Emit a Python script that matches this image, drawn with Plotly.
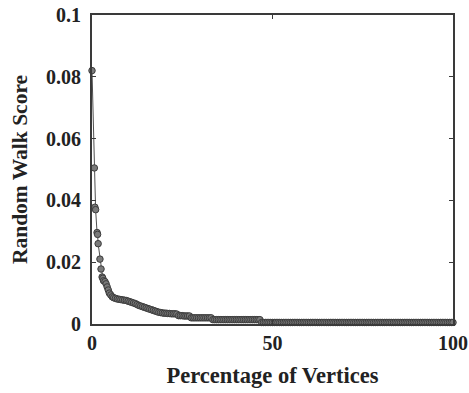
import plotly.graph_objects as go

# Percentage of vertices (x) and random walk score (y)
pct_vertices = [
    0.0, 0.65, 0.8, 1.0, 1.4, 1.55, 1.7, 2.2, 2.5, 2.8, 3.0, 3.2, 3.6, 3.9, 4.2, 4.5, 4.8, 5.2, 5.6,
    6.0, 6.5, 7.0, 7.5, 8.0, 8.5, 9.0, 9.5, 10.0, 10.5, 11.0, 11.5, 12.0, 12.5, 13.0, 13.5,
    14.0, 14.5, 15.0, 15.5, 16.0, 16.5, 17.0, 17.5, 18.0, 18.5, 19.0, 19.5, 20.0, 20.5,
    21.0, 21.5, 22.0, 22.5, 23.0, 23.5, 24.0, 24.5, 25.0, 25.5, 26.0, 26.5, 27.0, 27.5,
    28.0, 28.5, 29.0, 29.5, 30.0, 30.5, 31.0, 31.5, 32.0, 32.5, 33.0, 33.5, 34.0, 34.5,
    35.0, 35.5, 36.0, 36.5, 37.0, 37.5, 38.0, 38.5, 39.0, 39.5, 40.0, 40.5, 41.0, 41.5,
    42.0, 42.5, 43.0, 43.5, 44.0, 44.5, 45.0, 45.5, 46.0, 46.5, 47.0, 47.5, 48.0, 48.5,
    49.0, 49.5, 50.0, 50.5, 51.0, 51.5, 52.0, 52.5, 53.0, 53.5, 54.0, 54.5, 55.0, 55.5,
    56.0, 56.5, 57.0, 57.5, 58.0, 58.5, 59.0, 59.5, 60.0, 60.5, 61.0, 61.5, 62.0, 62.5,
    63.0, 63.5, 64.0, 64.5, 65.0, 65.5, 66.0, 66.5, 67.0, 67.5, 68.0, 68.5, 69.0, 69.5,
    70.0, 70.5, 71.0, 71.5, 72.0, 72.5, 73.0, 73.5, 74.0, 74.5, 75.0, 75.5, 76.0, 76.5,
    77.0, 77.5, 78.0, 78.5, 79.0, 79.5, 80.0, 80.5, 81.0, 81.5, 82.0, 82.5, 83.0, 83.5,
    84.0, 84.5, 85.0, 85.5, 86.0, 86.5, 87.0, 87.5, 88.0, 88.5, 89.0, 89.5, 90.0, 90.5,
    91.0, 91.5, 92.0, 92.5, 93.0, 93.5, 94.0, 94.5, 95.0, 95.5, 96.0, 96.5, 97.0, 97.5,
    98.0, 98.5, 99.0, 99.5, 100.0,
]

rw_score = [
    0.082, 0.0505, 0.0378, 0.037, 0.0296, 0.0290, 0.026, 0.021, 0.0178, 0.0152, 0.0148, 0.0140,
    0.0137, 0.0130, 0.0120, 0.0110, 0.0100, 0.0094, 0.0088,
    0.0085, 0.0083, 0.0081, 0.0080, 0.0079, 0.0078, 0.0077, 0.0076, 0.0074, 0.0072,
    0.0070, 0.0068, 0.0066, 0.0063, 0.0060, 0.0058, 0.0056, 0.0054, 0.0052, 0.0050,
    0.0048, 0.0046, 0.0044, 0.0042, 0.0040, 0.0038, 0.0037, 0.0036, 0.0035, 0.0035,
    0.0034, 0.0034, 0.0033, 0.0033, 0.0033, 0.0032,
    0.0027, 0.0027, 0.0027, 0.0026, 0.0026, 0.0026, 0.0026,
    0.0020, 0.0020, 0.0020, 0.0020, 0.0020, 0.0020, 0.0020, 0.0020, 0.0020, 0.0020, 0.0020, 0.0020,
    0.0014, 0.0014, 0.0014, 0.0014, 0.0014, 0.0014, 0.0014, 0.0014, 0.0014, 0.0014,
    0.0014, 0.0014, 0.0014, 0.0014, 0.0014, 0.0014, 0.0014, 0.0014, 0.0014, 0.0014,
    0.0014, 0.0014, 0.0014, 0.0014, 0.0014, 0.0014, 0.0014,
    0.0005, 0.0005, 0.0005, 0.0005, 0.0005, 0.0005, 0.0005, 0.0005, 0.0005, 0.0005,
    0.0005, 0.0005, 0.0005, 0.0005, 0.0005, 0.0005, 0.0005, 0.0005, 0.0005, 0.0005,
    0.0005, 0.0005, 0.0005, 0.0005, 0.0005, 0.0005, 0.0005, 0.0005, 0.0005, 0.0005,
    0.0005, 0.0005, 0.0005, 0.0005, 0.0005, 0.0005, 0.0005, 0.0005, 0.0005, 0.0005,
    0.0005, 0.0005, 0.0005, 0.0005, 0.0005, 0.0005, 0.0005, 0.0005, 0.0005, 0.0005,
    0.0005, 0.0005, 0.0005, 0.0005, 0.0005, 0.0005, 0.0005, 0.0005, 0.0005, 0.0005,
    0.0005, 0.0005, 0.0005, 0.0005, 0.0005, 0.0005, 0.0005, 0.0005, 0.0005, 0.0005,
    0.0005, 0.0005, 0.0005, 0.0005, 0.0005, 0.0005, 0.0005, 0.0005, 0.0005, 0.0005,
    0.0005, 0.0005, 0.0005, 0.0005, 0.0005, 0.0005, 0.0005, 0.0005, 0.0005, 0.0005,
    0.0005, 0.0005, 0.0005, 0.0005, 0.0005, 0.0005, 0.0005, 0.0005, 0.0005, 0.0005,
    0.0005, 0.0005, 0.0005, 0.0005, 0.0005, 0.0005, 0.0005,
]

x_ticks = [0, 50, 100]
y_ticks = [0, 0.02, 0.04, 0.06, 0.08, 0.1]
y_tick_labels = ["0", "0.02", "0.04", "0.06", "0.08", "0.1"]

FONT = "Liberation Serif"

fig = go.Figure()
fig.add_trace(go.Scatter(
    x=pct_vertices, y=rw_score, mode="lines+markers",
    line=dict(color="#505050", width=1),
    marker=dict(symbol="circle", size=6.5, color="#7a7a7a",
                line=dict(color="#3c3c3c", width=1)),
    cliponaxis=False, showlegend=False,
))

axis_common = dict(
    showline=True, linecolor="#3a3a3a", linewidth=2, mirror="ticks",
    ticks="inside", ticklen=4, tickwidth=1, tickcolor="#3a3a3a",
    showgrid=False, zeroline=False, automargin=False,
    tickfont=dict(family=FONT, size=20, color="#222222", weight="bold"),
)

fig.update_layout(
    width=469, height=393,
    margin=dict(l=92, r=16, t=15, b=69),
    paper_bgcolor="white", plot_bgcolor="white",
    font=dict(family=FONT, color="#222222"),
    xaxis=dict(range=[0, 100], tickvals=x_ticks, ticktext=[str(v) for v in x_ticks],
               title=dict(text="Percentage of Vertices",
                          font=dict(family=FONT, size=22.5, color="#222222", weight="bold"),
                          standoff=14),
               ticklabelstandoff=0,
               **axis_common),
    yaxis=dict(range=[0, 0.1], tickvals=y_ticks, ticktext=y_tick_labels,
               title=dict(text="Random Walk Score",
                          font=dict(family=FONT, size=21.5, color="#222222", weight="bold"),
                          standoff=12),
               ticklabelstandoff=5,
               **axis_common),
)

fig.write_html("out.html")
